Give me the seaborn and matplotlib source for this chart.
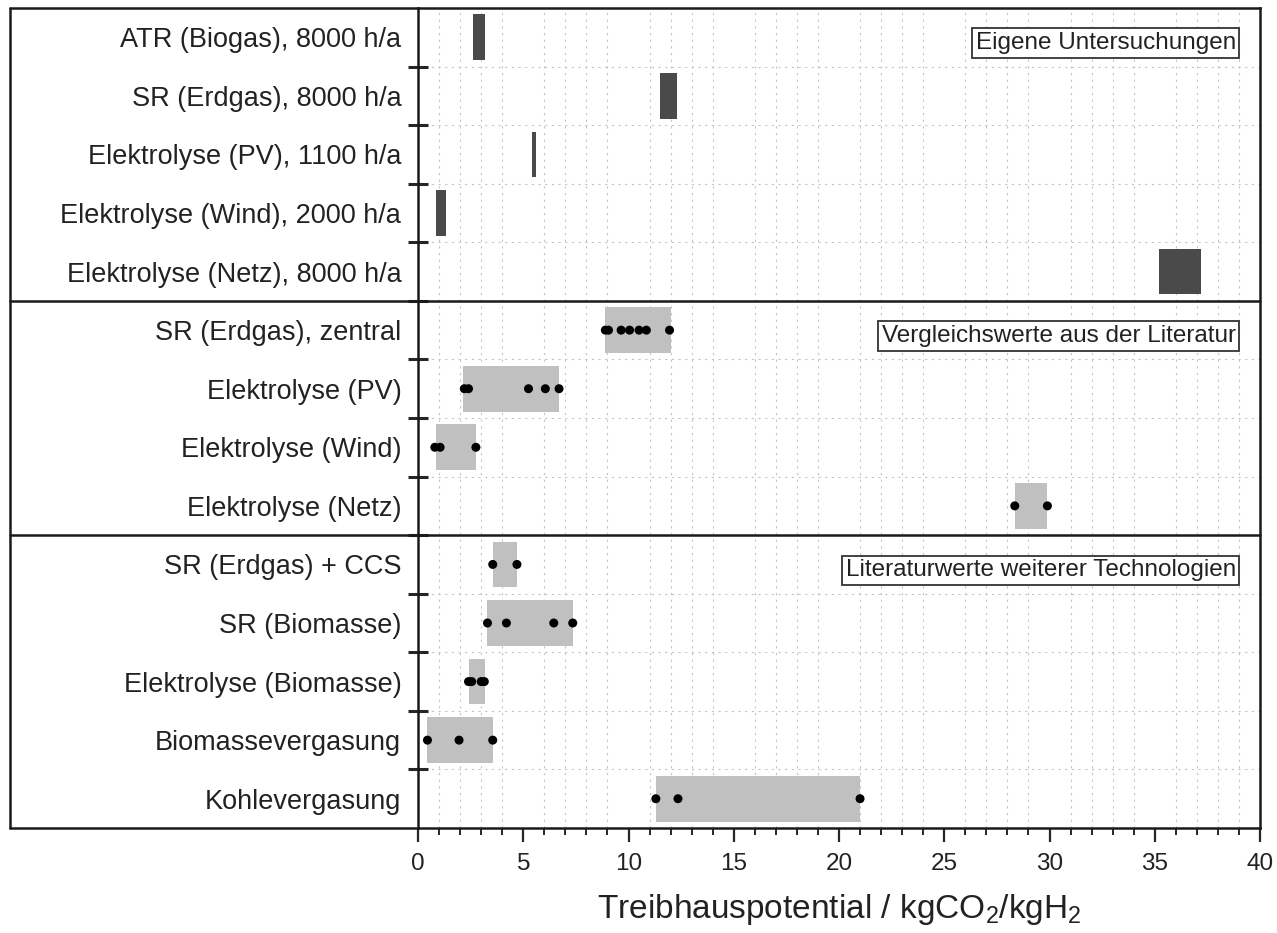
import numpy as np
import pandas as pd
import matplotlib
matplotlib.use("Agg")
import matplotlib.pyplot as plt
import matplotlib.transforms as mtransforms
from matplotlib.ticker import MultipleLocator, FixedLocator
import seaborn as sns

# ---------------- data ----------------
categories = [
    "ATR (Biogas), 8000 h/a",
    "SR (Erdgas), 8000 h/a",
    "Elektrolyse (PV), 1100 h/a",
    "Elektrolyse (Wind), 2000 h/a",
    "Elektrolyse (Netz), 8000 h/a",
    "SR (Erdgas), zentral",
    "Elektrolyse (PV)",
    "Elektrolyse (Wind)",
    "Elektrolyse (Netz)",
    "SR (Erdgas) + CCS",
    "SR (Biomasse)",
    "Elektrolyse (Biomasse)",
    "Biomassevergasung",
    "Kohlevergasung",
]
own_cats = categories[:5]
own_lo = [2.6, 11.5, 5.4, 0.85, 35.2]
own_hi = [3.2, 12.3, 5.6, 1.35, 37.2]

lit_cats = categories[5:]
lit_lo = [8.9, 2.15, 0.85, 28.35, 3.55, 3.3, 2.4, 0.42, 11.3]
lit_hi = [12.0, 6.7, 2.75, 29.9, 4.7, 7.38, 3.2, 3.55, 21.0]

dots_sr_zentral = [8.9, 9.05, 9.65, 10.05, 10.5, 10.85, 11.95]
dots_el_pv = [2.2, 2.4, 5.25, 6.05, 6.7]
dots_el_wind = [0.8, 1.05, 2.75]
dots_el_netz = [28.35, 29.9]
dots_sr_ccs = [3.55, 4.7]
dots_sr_bio = [3.3, 4.2, 6.45, 7.35]
dots_el_bio = [2.4, 2.55, 3.0, 3.15]
dots_bio_verg = [0.45, 1.95, 3.55]
dots_kohle = [11.3, 12.35, 21.0]

section_labels = ["Eigene Untersuchungen",
                  "Vergleichswerte aus der Literatur",
                  "Literaturwerte weiterer Technologien"]
section_start = [0, 5, 9]

xlabel = r"Treibhauspotential / kgCO$_2$/kgH$_2$"

# ---------------- style ----------------
sns.set_style("white")
plt.rcParams["font.family"] = ["Liberation Sans", "DejaVu Sans"]
plt.rcParams["mathtext.fontset"] = "custom"
plt.rcParams["mathtext.rm"] = "Liberation Sans"
plt.rcParams["mathtext.it"] = "Liberation Sans"

W, H = 1277, 933
fig = plt.figure(figsize=(W / 100, H / 100), dpi=100)
L, R, T, B = 418, 1260, 8, 828
ax = fig.add_axes([L / W, 1 - B / H, (R - L) / W, (B - T) / H])

pos = {c: i for i, c in enumerate(categories)}
dark = "#4a4a4a"
light = "#c0c0c0"
bh = 0.78

ax.barh([pos[c] for c in own_cats], np.array(own_hi) - np.array(own_lo),
        left=own_lo, height=bh, color=dark, edgecolor="none", zorder=3)
ax.barh([pos[c] for c in lit_cats], np.array(lit_hi) - np.array(lit_lo),
        left=lit_lo, height=bh, color=light, edgecolor="none", zorder=3)

dot_lists = [dots_sr_zentral, dots_el_pv, dots_el_wind, dots_el_netz,
             dots_sr_ccs, dots_sr_bio, dots_el_bio, dots_bio_verg, dots_kohle]
rows = []
for c, vals in zip(lit_cats, dot_lists):
    for v in vals:
        rows.append({"cat": c, "y": pos[c], "value": v})
df = pd.DataFrame(rows)
sns.scatterplot(data=df, x="value", y="y", ax=ax, color="black", s=42,
                edgecolor="none", zorder=5, legend=False)

ax.set_xlim(0, 40)
ax.set_ylim(len(categories) - 0.5, -0.5)

# x axis ticks
ax.xaxis.set_major_locator(MultipleLocator(5))
ax.xaxis.set_minor_locator(MultipleLocator(1))
ax.tick_params(axis="x", which="major", direction="out", length=10, width=1.6,
               pad=8, labelsize=17.5, bottom=True, labelcolor="#222222")
ax.tick_params(axis="x", which="minor", direction="out", length=5, width=1.4,
               bottom=True)

# y axis ticks
ax.set_yticks(range(len(categories)))
ax.set_yticklabels(categories)
bounds = [i + 0.5 for i in range(len(categories) - 1)]
ax.yaxis.set_minor_locator(FixedLocator(bounds))
ax.tick_params(axis="y", which="major", length=0, pad=12, labelsize=19.5,
               left=True, labelcolor="#222222")
ax.tick_params(axis="y", which="minor", direction="inout", length=14,
               width=2.2, left=True)

# grid on minor only
ax.grid(False, which="major")
ax.grid(True, which="minor", axis="both", linestyle=(0, (2, 4)),
        color="#c4c4c4", linewidth=0.8, zorder=0)
ax.set_axisbelow(True)

for s in ax.spines.values():
    s.set_visible(True)
    s.set_linewidth(1.8)
    s.set_color("#1a1a1a")

ax.set_xlabel(xlabel, fontsize=24, labelpad=12, color="#222222")
ax.set_ylabel("")

# outer frame and section separators (extend into label area)
x_left = (10 - L) / (R - L)
trans = mtransforms.blended_transform_factory(ax.transAxes, ax.transData)
for yb in [4.5, 8.5]:
    ax.plot([x_left, 1], [yb, yb], transform=trans, color="#1a1a1a",
            lw=1.8, clip_on=False, zorder=6)
for yb in [-0.5, 13.5]:
    ax.plot([x_left, 0], [yb, yb], transform=trans, color="#1a1a1a",
            lw=1.8, clip_on=False, zorder=6)
ax.plot([x_left, x_left], [-0.5, 13.5], transform=trans, color="#1a1a1a",
        lw=1.8, clip_on=False, zorder=6)

# section annotation boxes
for lab, st in zip(section_labels, section_start):
    ax.text(38.85, st + 0.1, lab, ha="right", va="center", fontsize=17.5,
            zorder=7, color="#222222",
            bbox=dict(boxstyle="square,pad=0.15", fc="white", ec="#333333",
                      lw=1.3))

fig.savefig("out.png", dpi=100)
